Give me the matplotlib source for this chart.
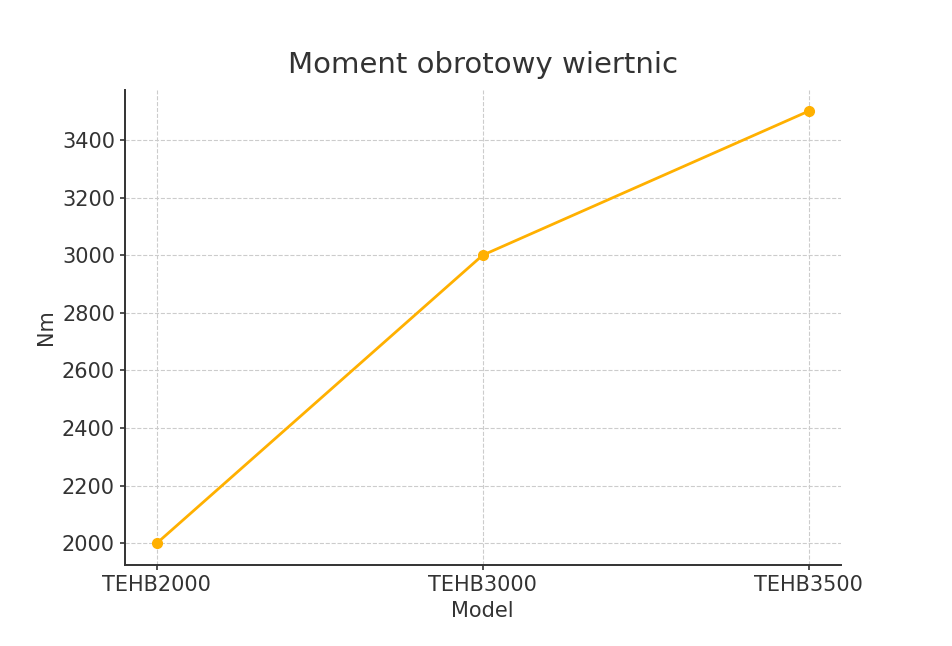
import matplotlib
matplotlib.use("Agg")
import matplotlib.pyplot as plt

models = ["TEHB2000", "TEHB3000", "TEHB3500"]
torque = [2000, 3000, 3500]

fig = plt.figure(figsize=(9.52, 6.46), dpi=100)
ax = fig.add_axes([0.131, 0.125, 0.752, 0.736])
ax.plot(models, torque, color="#FFB000", marker="o", linewidth=2, markersize=7)
ax.set_xlim(-0.098, 2.098)
ax.set_ylim(1924, 3574)
ax.set_yticks(range(2000, 3401, 200))
ax.grid(True, linestyle="--", color="#cccccc", linewidth=0.8)
ax.spines["top"].set_visible(False)
ax.spines["right"].set_visible(False)
for s in ("left", "bottom"):
    ax.spines[s].set_linewidth(1.4)
    ax.spines[s].set_color("#333333")
ax.tick_params(labelsize=15, colors="#333333", width=1.2)
ax.set_title("Moment obrotowy wiertnic", fontsize=21, color="#333333", pad=12)
ax.set_xlabel("Model", fontsize=15, color="#333333")
ax.set_ylabel("Nm", fontsize=15, color="#333333")
fig.savefig("out.png", dpi=100)
